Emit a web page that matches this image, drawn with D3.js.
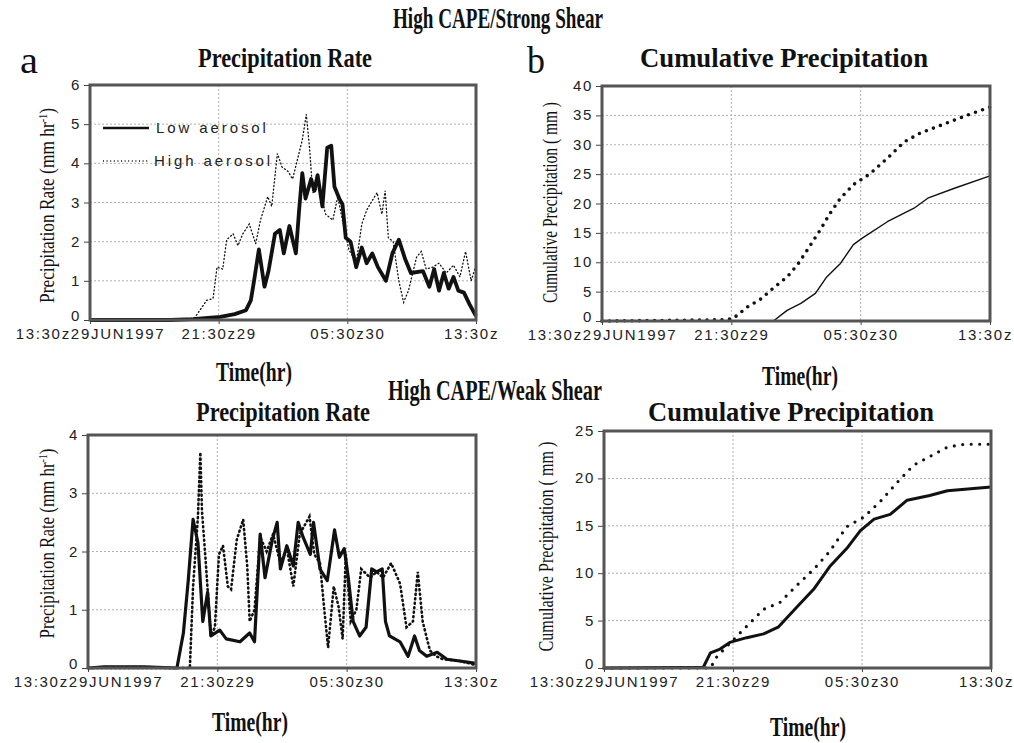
<!DOCTYPE html>
<html lang="en">
<head>
  <meta charset="UTF-8">
  <title>High CAPE precipitation</title>
  <script src="https://d3js.org/d3.v7.min.js"></script>
  <style>
    body { margin: 0; background: #fff; }
    .serif { font-family: "Liberation Serif", "Times New Roman", serif; fill: #111; }
    .tick text { font-family: "Liberation Sans", Arial, sans-serif; font-size: 15px; fill: #222; letter-spacing: 1.7px; }
    .grid { stroke: #b0b0b0; stroke-width: 1; stroke-dasharray: 2,2; }
    .frame { fill: none; stroke: #555; stroke-width: 3; }
  </style>
</head>
<body>
<svg id="chart" width="1014" height="743"></svg>
<script>
// time axis: hours after 13:30z 29 JUN 1997
const timeTicks = [0, 8, 16, 24];
const timeLabels = ["13:30z29JUN1997", "21:30z29", "05:30z30", "13:30z"];

// High CAPE / strong shear, precipitation rate (mm/hr)
const rateStrongLow = [[0,0],[5,0],[6.4,0.02],[8.1,0.08],[9,0.15],[9.7,0.25],[10,0.5],[10.2,1.0],[10.5,1.8],
  [10.85,0.85],[11.1,1.25],[11.5,2.2],[11.8,2.3],[12.05,1.7],[12.4,2.4],[12.8,1.7],[13,2.8],[13.2,3.75],
  [13.4,3.1],[13.75,3.6],[13.95,3.3],[14.15,3.7],[14.45,2.9],[14.75,4.4],[15,4.45],[15.2,3.4],[15.5,3.1],
  [15.7,2.95],[15.9,2.1],[16.2,2.0],[16.55,1.35],[16.9,1.85],[17.2,1.45],[17.55,1.7],[17.9,1.35],[18.4,1.0],
  [18.8,1.7],[19.2,2.05],[19.6,1.55],[19.95,1.2],[20.7,1.25],[21.1,0.85],[21.4,1.3],[21.7,0.75],[22,1.2],
  [22.3,0.8],[22.6,1.1],[22.9,0.75],[23.25,0.7],[23.6,0.4],[24,0.1]];
const rateStrongHigh = [[0,0],[5.5,0],[6.5,0.05],[7.25,0.5],[7.65,0.55],[7.9,1.35],[8.25,1.3],[8.5,2.05],
  [8.9,2.2],[9.2,1.9],[9.5,2.2],[9.9,2.45],[10.3,1.95],[10.6,2.55],[11.05,3.15],[11.3,2.9],[11.65,4.25],
  [11.95,3.9],[12.3,3.8],[12.6,3.6],[12.9,4.1],[13.2,4.6],[13.45,5.25],[13.65,4.4],[13.85,3.25],[14.25,3.4],
  [14.65,2.7],[15.1,2.55],[15.4,3.15],[15.7,2.55],[16.1,1.8],[16.55,1.45],[16.9,2.45],[17.2,2.8],[17.55,3.05],
  [17.85,3.25],[18.15,2.7],[18.35,3.3],[18.55,2.1],[18.85,2.0],[19.2,1.0],[19.5,0.45],[19.8,0.75],[20.3,1.6],
  [20.6,1.75],[20.9,1.3],[21.3,1.35],[21.7,1.45],[22.15,1.2],[22.6,1.4],[23,1.1],[23.35,1.75],[23.7,1.0],[24,1.4]];

// High CAPE / strong shear, cumulative precipitation (mm)
const cumStrongLow = [[0,0],[10.6,0],[11.45,1.8],[12.3,3.0],[13.2,4.7],[13.9,7.5],[14.75,9.8],[15.55,13.0],
  [16.1,14.1],[17.65,16.9],[19.3,19.2],[20.15,20.9],[21.8,22.6],[24,24.7]];
const cumStrongHigh = [[0,0],[7.6,0.2],[8.1,0.4],[9,2.4],[9.8,3.7],[10.6,5.6],[11.45,7.5],[12.1,9.6],
  [12.7,12.1],[13.5,15.5],[14.1,18.3],[14.75,20.9],[15.55,23.2],[16.6,25.1],[17.65,27.7],[18.7,30.5],
  [19.7,32.0],[20.75,33.1],[21.8,34.2],[22.85,35.3],[24,36.4]];

// High CAPE / weak shear, precipitation rate (mm/hr)
const rateWeakLow = [[0,0],[1,0.02],[3.5,0.02],[5.5,0],[5.9,0.6],[6.2,1.5],[6.5,2.55],[6.8,2.15],[7.1,0.8],
  [7.4,1.3],[7.6,0.55],[8.15,0.65],[8.55,0.5],[9.4,0.45],[10,0.6],[10.3,0.45],[10.65,2.3],[10.95,1.55],
  [11.4,2.2],[11.7,2.5],[11.9,1.7],[12.3,2.1],[12.7,1.75],[13,2.5],[13.3,2.25],[13.75,1.95],[13.95,2.5],
  [14.35,1.7],[14.8,1.5],[15.25,2.37],[15.55,1.9],[15.85,2.05],[16.1,1.55],[16.4,0.8],[16.8,0.55],[17.2,0.7],
  [17.55,1.7],[17.85,1.65],[18.2,1.7],[18.4,0.8],[18.65,0.55],[19.3,0.45],[19.8,0.2],[20.2,0.55],[20.5,0.3],
  [20.95,0.2],[21.6,0.27],[22.2,0.15],[23,0.12],[24,0.08]];
const rateWeakHigh = [[0,0],[6.3,0],[6.5,1.4],[6.8,2.6],[6.95,3.7],[7.05,2.7],[7.3,1.75],[7.6,0.55],[7.85,0.7],
  [8.1,1.95],[8.35,2.1],[8.65,1.4],[8.85,1.35],[9.2,2.2],[9.6,2.55],[9.85,1.75],[10,0.8],[10.3,1.0],[10.65,2.25],
  [11.05,2.0],[11.45,2.3],[11.9,1.8],[12.3,2.05],[12.7,1.4],[13.1,2.3],[13.7,2.6],[14,1.95],[14.35,1.8],
  [14.6,1.05],[14.85,0.35],[15.2,1.4],[15.5,1.05],[15.75,0.5],[15.95,1.95],[16.25,0.8],[16.6,1.0],[16.9,1.7],
  [17.45,1.55],[17.85,1.65],[18.25,1.55],[18.75,1.8],[19.3,1.45],[19.7,0.7],[20.1,0.8],[20.4,1.65],[20.7,0.8],
  [21.15,0.3],[21.55,0.2],[21.95,0.15],[23,0.12],[24,0.05]];

// High CAPE / weak shear, cumulative precipitation (mm)
const cumWeakLow = [[0,0],[4.5,0.05],[6.15,0.05],[6.6,1.6],[7.2,2.0],[7.8,2.7],[8.85,3.2],[9.9,3.6],[10.8,4.3],
  [11.95,6.4],[13,8.3],[14,10.7],[15.05,12.6],[15.9,14.5],[16.75,15.7],[17.75,16.2],[18.8,17.7],[20.2,18.2],
  [21.3,18.7],[24,19.1]];
const cumWeakHigh = [[0,0],[6.6,0],[7,1.2],[7.8,2.6],[8.85,4.4],[9.9,6.2],[10.9,6.9],[11.95,8.7],[13,10.4],
  [14,12.3],[15.05,14.9],[16.1,15.9],[17.15,17.6],[18.2,19.6],[19.2,21.4],[20.2,22.3],[21.3,23.3],[22.35,23.6],
  [24,23.6]];

const svg = d3.select("#chart");

// tall condensed serif text, squeezed to the width seen in the figure
function serifText(x, y, txt, size, len, weight) {
  return svg.append("text")
    .attr("class", "serif")
    .style("font-weight", weight || "bold")
    .attr("x", x).attr("y", y)
    .attr("font-size", size)
    .attr("text-anchor", "middle")
    .attr("textLength", len)
    .attr("lengthAdjust", "spacingAndGlyphs")
    .text(txt);
}

function drawPanel(p) {
  const x = d3.scaleLinear().domain([0, 24]).range([p.left, p.right]);
  const y = d3.scaleLinear().domain([0, p.ymax]).range([p.bottom, p.top]);
  const g = svg.append("g");

  const yTicks = d3.range(0, p.ymax + 0.001, p.ystep);

  // grid
  g.selectAll(".gy").data(yTicks.slice(1, -1)).join("line")
    .attr("class", "grid")
    .attr("x1", p.left).attr("x2", p.right)
    .attr("y1", d => y(d)).attr("y2", d => y(d));
  g.selectAll(".gx").data(timeTicks.slice(1, -1)).join("line")
    .attr("class", "grid")
    .attr("y1", p.top).attr("y2", p.bottom)
    .attr("x1", d => x(d)).attr("x2", d => x(d));

  // axes
  const ya = g.append("g").attr("transform", `translate(${p.left},0)`)
    .call(d3.axisLeft(y).tickValues(yTicks).tickSize(6).tickPadding(3).tickFormat(d3.format("d")));
  ya.select(".domain").remove();
  ya.selectAll("line").attr("stroke", "#444");
  ya.selectAll("text").attr("dy", d => d === 0 ? "0.05em" : "0.3em");

  const xa = g.append("g").attr("transform", `translate(0,${p.bottom})`)
    .call(d3.axisBottom(x).tickValues(timeTicks).tickSize(4).tickPadding(4)
      .tickFormat((d, i) => timeLabels[i]));
  xa.select(".domain").remove();
  xa.selectAll("line").attr("stroke", "#444");
  xa.selectAll("text").filter((d, i) => i === 3).attr("dx", -5);

  // lines
  const line = d3.line().x(d => x(d[0])).y(d => y(d[1]));
  g.append("path").datum(p.high)
    .attr("fill", "none").attr("stroke", "#111")
    .attr("stroke-width", p.highW).attr("stroke-dasharray", p.highDash)
    .attr("stroke-linecap", "round").attr("d", line);
  g.append("path").datum(p.low)
    .attr("fill", "none").attr("stroke", "#111")
    .attr("stroke-width", p.lowW).attr("stroke-linejoin", "round").attr("d", line);

  // frame
  g.append("rect").attr("class", "frame")
    .attr("x", p.left).attr("y", p.top)
    .attr("width", p.right - p.left).attr("height", p.bottom - p.top);

  // y label
  const yl = svg.append("text")
    .attr("class", "serif")
    .attr("font-size", 22)
    .attr("text-anchor", "middle")
    .attr("transform", `translate(${p.ylx},${(p.top + p.bottom) / 2 + p.yloff}) rotate(-90)`)
    .attr("textLength", p.yllen).attr("lengthAdjust", "spacingAndGlyphs");
  if (p.rate) {
    yl.append("tspan").text("Precipitation Rate (mm hr");
    yl.append("tspan").attr("baseline-shift", "super").attr("font-size", 13).text("-1");
    yl.append("tspan").text(")");
  } else {
    yl.text("Cumulative Precipitation ( mm )");
  }
  return { x, y };
}

drawPanel({ left: 90, right: 476, top: 85, bottom: 320, ymax: 6, ystep: 1,
  low: rateStrongLow, high: rateStrongHigh, lowW: 3.8, highW: 1.3, highDash: "1,2.6",
  rate: true, ylx: 54, yloff: 3, yllen: 195 });
drawPanel({ left: 602, right: 990, top: 86, bottom: 321, ymax: 40, ystep: 5,
  low: cumStrongLow, high: cumStrongHigh, lowW: 1.4, highW: 3.6, highDash: "0,7.5",
  rate: false, ylx: 557, yloff: -1, yllen: 201 });
drawPanel({ left: 88, right: 476, top: 435, bottom: 668, ymax: 4, ystep: 1,
  low: rateWeakLow, high: rateWeakHigh, lowW: 3.2, highW: 2.6, highDash: "1,3.5",
  rate: true, ylx: 54, yloff: -8, yllen: 190 });
drawPanel({ left: 604, right: 991, top: 431, bottom: 668, ymax: 25, ystep: 5,
  low: cumWeakLow, high: cumWeakHigh, lowW: 3, highW: 3.2, highDash: "0,8.5",
  rate: false, ylx: 553, yloff: -3, yllen: 210 });

// legend (panel a)
const legend = [
  { name: "Low aerosol", w: 2.4, dash: null, y: 128, tx: 156 },
  { name: "High aerosol", w: 1.3, dash: "1,2.6", y: 161, tx: 154 }
];
legend.forEach(l => {
  svg.append("line").attr("x1", 103).attr("x2", 149).attr("y1", l.y).attr("y2", l.y)
    .attr("stroke", "#111").attr("stroke-width", l.w)
    .attr("stroke-dasharray", l.dash);
  svg.append("text").attr("x", l.tx).attr("y", l.y + 5)
    .attr("font-family", "Liberation Sans, Arial, sans-serif").attr("font-size", 15)
    .attr("letter-spacing", "2.9px").attr("fill", "#222")
    .text(l.name);
});

// titles
serifText(498, 28, "High CAPE/Strong Shear", 29, 210);
serifText(495, 400, "High CAPE/Weak Shear", 29, 214);
serifText(285, 67, "Precipitation Rate", 27, 174);
serifText(784, 67, "Cumulative Precipitation", 27, 288);
serifText(283, 421, "Precipitation Rate", 27, 174);
serifText(791, 421, "Cumulative Precipitation", 27, 286);
serifText(254, 381, "Time(hr)", 27, 76);
serifText(800, 385, "Time(hr)", 27, 76);
serifText(250, 731, "Time(hr)", 27, 76);
serifText(808, 736, "Time(hr)", 27, 76);
serifText(29, 73, "a", 38, 18, "normal");
serifText(536, 73, "b", 38, 18, "normal");
</script>
</body>
</html>
